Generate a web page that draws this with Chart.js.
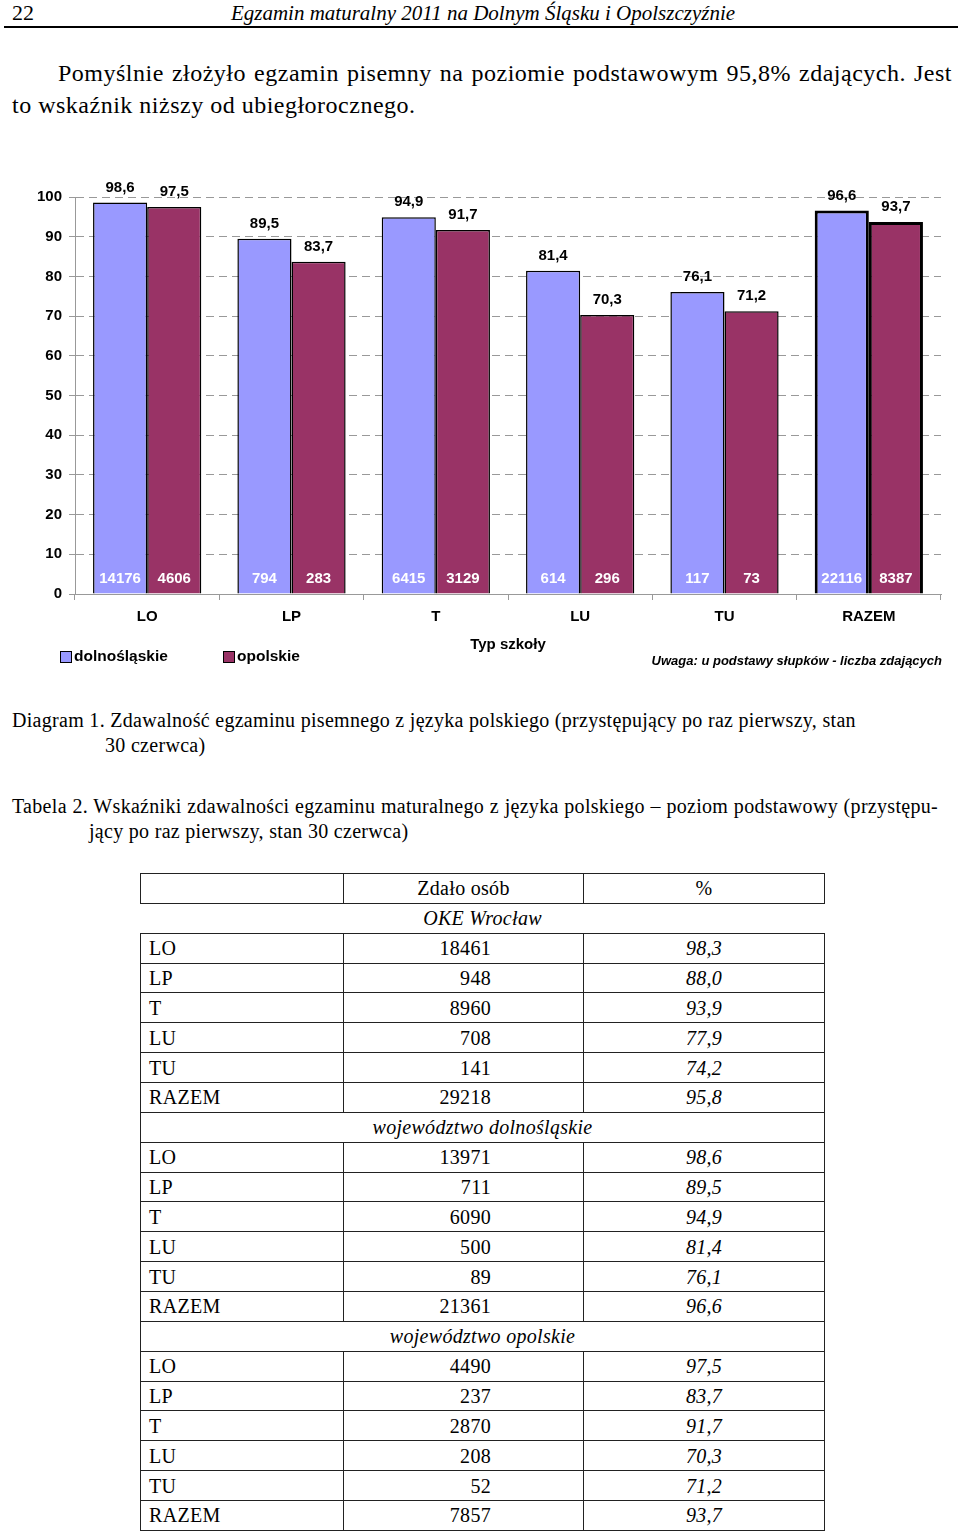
<!DOCTYPE html>
<html lang="pl">
<head>
<meta charset="utf-8">
<title>Zdawalność egzaminu pisemnego z języka polskiego</title>
<script src="https://cdn.jsdelivr.net/npm/chart.js@4.4.1/dist/chart.umd.min.js"></script>
<style>
  html, body { margin: 0; padding: 0; background: #fff; }
  body { width: 960px; height: 1532px; position: relative; overflow: hidden;
         font-family: "Liberation Serif", "DejaVu Serif", serif; color: #000; }
  .abs { position: absolute; white-space: nowrap; }
  .sans { font-family: "Liberation Sans", Arial, sans-serif; font-weight: bold; }
  #wykres { position: absolute; left: 0; top: 170px; }
  .box { position: absolute; width: 10px; height: 10px; border: 1px solid #000; }
  table { position: absolute; left: 140px; top: 873px; width: 684px; border-collapse: collapse;
          table-layout: fixed; font-size: 20px; letter-spacing: 0.3px; }
  td { border: 1.5px solid #222; height: 28.86px; padding: 0 8px; line-height: 28px; white-space: nowrap; }
  td.liczba { text-align: right; padding-right: 92px; }
  td.proc { text-align: center; font-style: italic; }
  td.sekcja { text-align: center; font-style: italic; }
  tr.oke td { border-left: none; border-right: none; }
</style>
</head>
<body>

<div class="abs" style="left:12px; top:0; font-size:22px; line-height:26px;">22</div>
<div class="abs" style="left:0; width:966px; top:1px; text-align:center; font-size:21px; line-height:24px; font-style:italic;">Egzamin maturalny 2011 na Dolnym Śląsku i Opolszczyźnie</div>
<div class="abs" style="left:4px; top:26px; width:954px; height:1.5px; background:#000;"></div>

<div class="abs" style="left:58px; top:57px; width:894px; font-size:24px; letter-spacing:0.5px; line-height:32px; text-align:justify; text-align-last:justify;">Pomyślnie złożyło egzamin pisemny na poziomie podstawowym 95,8% zdających. Jest</div>
<div class="abs" style="left:12px; top:89px; font-size:24px; letter-spacing:0.5px; line-height:32px;">to wskaźnik niższy od ubiegłorocznego.</div>

<canvas id="wykres" width="960" height="510"></canvas>

<div class="box" style="left:60px; top:651px; background:#9999ff;"></div>
<div class="abs sans" style="left:74px; top:647px; font-size:15.5px; line-height:18px;">dolnośląskie</div>
<div class="box" style="left:223px; top:651px; background:#993366;"></div>
<div class="abs sans" style="left:237px; top:647px; font-size:15.5px; line-height:18px;">opolskie</div>
<div class="abs sans" style="right:18px; top:653px; font-size:13px; line-height:16px; font-style:italic;">Uwaga: u podstawy słupków - liczba zdających</div>

<div class="abs" style="left:12px; top:708px; font-size:20px; letter-spacing:0.3px; line-height:25px;">Diagram 1. Zdawalność egzaminu pisemnego z języka polskiego (przystępujący po raz pierwszy, stan</div>
<div class="abs" style="left:105px; top:733px; font-size:20px; letter-spacing:0.3px; line-height:25px;">30 czerwca)</div>

<div class="abs" style="left:12px; top:794px; width:926px; font-size:20px; letter-spacing:0.3px; line-height:25px; text-align:justify; text-align-last:justify;">Tabela 2. Wskaźniki zdawalności egzaminu maturalnego z języka polskiego – poziom podstawowy (przystępu-</div>
<div class="abs" style="left:89px; top:819px; font-size:20px; letter-spacing:0.3px; line-height:25px;">jący po raz pierwszy, stan 30 czerwca)</div>

<table id="tabela">
  <colgroup><col style="width:203px"><col style="width:240px"><col style="width:241px"></colgroup>
  <tbody></tbody>
</table>

<script>
// dane wykresu
const typySzkol = ['LO', 'LP', 'T', 'LU', 'TU', 'RAZEM'];
const zdawalnoscDoln = [98.6, 89.5, 94.9, 81.4, 76.1, 96.6];
const zdawalnoscOpol = [97.5, 83.7, 91.7, 70.3, 71.2, 93.7];
const zdajacyDoln = [14176, 794, 6415, 614, 117, 22116];
const zdajacyOpol = [4606, 283, 3129, 296, 73, 8387];

// dane tabeli
const sekcje = ['OKE Wrocław', 'województwo dolnośląskie', 'województwo opolskie'];
const zdaloOke = [18461, 948, 8960, 708, 141, 29218];
const procOke = [98.3, 88.0, 93.9, 77.9, 74.2, 95.8];
const zdaloDoln = [13971, 711, 6090, 500, 89, 21361];
const procDoln = [98.6, 89.5, 94.9, 81.4, 76.1, 96.6];
const zdaloOpol = [4490, 237, 2870, 208, 52, 7857];
const procOpol = [97.5, 83.7, 91.7, 70.3, 71.2, 93.7];

function fmt(v) {
  return v.toFixed(1).replace('.', ',');
}

/////////// tabela
var tbody = document.querySelector('#tabela tbody');
var html = '<tr><td></td><td style="text-align:center">Zdało osób</td><td class="proc" style="font-style:normal">%</td></tr>';
var zdalo = [zdaloOke, zdaloDoln, zdaloOpol];
var proc = [procOke, procDoln, procOpol];
sekcje.forEach(function (nazwa, s) {
  html += '<tr' + (s === 0 ? ' class="oke"' : '') + '><td colspan="3" class="sekcja">' + nazwa + '</td></tr>';
  typySzkol.forEach(function (typ, i) {
    html += '<tr><td>' + typ + '</td><td class="liczba">' + zdalo[s][i] + '</td><td class="proc">' + fmt(proc[s][i]) + '</td></tr>';
  });
});
tbody.innerHTML = html;

/////////// wykres
var czcionka = { family: '"Liberation Sans", Arial, sans-serif', size: 15, weight: 'bold' };

const etykiety = {
  id: 'etykiety',
  afterDatasetsDraw(chart) {
    var c = chart.ctx;
    var dol = chart.chartArea.bottom;
    c.save();
    c.font = 'bold 15px "Liberation Sans", Arial, sans-serif';
    c.textAlign = 'center';
    c.textBaseline = 'middle';
    chart.data.datasets.forEach(function (ds, i) {
      chart.getDatasetMeta(i).data.forEach(function (bar, j) {
        c.fillStyle = '#000';
        c.fillText(fmt(ds.data[j]), bar.x, bar.y - 15);
        c.fillStyle = '#fff';
        c.fillText(String(ds.liczby[j]), bar.x, dol - 15);
      });
    });
    c.restore();
  }
};

new Chart(document.getElementById('wykres'), {
  type: 'bar',
  data: {
    labels: typySzkol,
    datasets: [{
      label: 'dolnośląskie',
      data: zdawalnoscDoln,
      liczby: zdajacyDoln,
      backgroundColor: '#9999ff',
      borderColor: '#000',
      borderWidth: function (ctx) { return ctx.dataIndex === 5 ? 3 : 1.5; }
    }, {
      label: 'opolskie',
      data: zdawalnoscOpol,
      liczby: zdajacyOpol,
      backgroundColor: '#993366',
      borderColor: '#000',
      borderWidth: function (ctx) { return ctx.dataIndex === 5 ? 3 : 1.5; }
    }]
  },
  options: {
    responsive: false,
    animation: false,
    devicePixelRatio: 1,
    categoryPercentage: 0.75,
    barPercentage: 1.0,
    layout: { padding: { top: 27, left: 30, right: 19, bottom: 26 } },
    plugins: {
      legend: { display: false },
      tooltip: { enabled: false }
    },
    scales: {
      x: {
        grid: { drawOnChartArea: false, drawTicks: true, tickLength: 6, color: '#999', offset: true },
        border: { display: true, color: '#999', width: 1 },
        ticks: { color: '#000', font: czcionka, padding: 8 },
        title: { display: true, text: 'Typ szkoły', color: '#000', font: czcionka, padding: { top: 0, bottom: 0 } },
        afterFit: function (s) { s.height = 60; }
      },
      y: {
        min: 0,
        max: 100,
        ticks: { stepSize: 10, color: '#000', font: czcionka, padding: 7 },
        grid: { color: '#999', tickLength: 6 },
        border: { display: true, color: '#999', width: 1, dash: [8, 5] },
        afterFit: function (s) { s.width = 45; }
      }
    }
  },
  plugins: [etykiety]
});
</script>
</body>
</html>
